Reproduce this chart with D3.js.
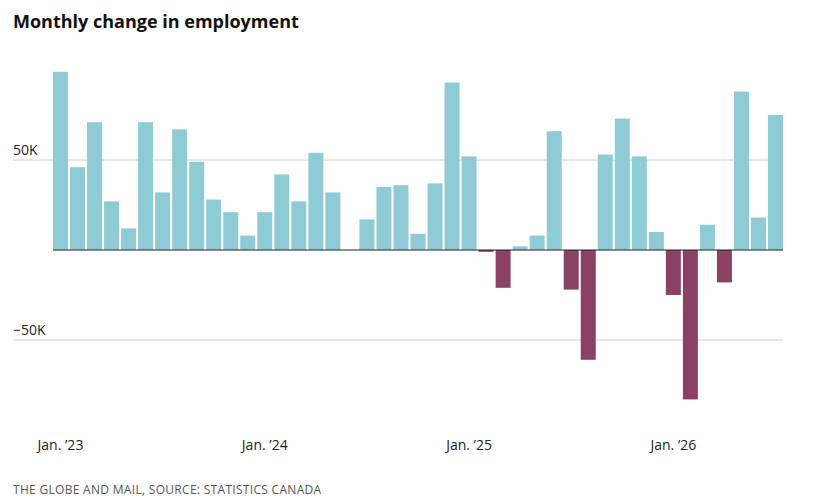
<!DOCTYPE html>
<html><head><meta charset="utf-8">
<script src="https://cdn.jsdelivr.net/npm/d3@7"></script>
<style>
body{margin:0;background:#fff;font-family:"Open Sans",sans-serif;}
</style></head>
<body><svg id="c" width="822" height="502"></svg>
<script>
// monthly change, thousands, Jan 2023 .. Jul 2026
var values = [99,46,71,27,12,71,32,67,49,28,21,8,
              21,42,27,54,32,0,17,35,36,9,37,93,
              52,-1,-21,2,8,66,-22,-61,53,73,52,10,
              -25,-83,14,-18,88,18,75];
var tickLabels = ["Jan. \u201923","Jan. \u201924","Jan. \u201925","Jan. \u201926"];
var tickIdx = [0,12,24,36];
var yTicks = [50,-50];

var svg = d3.select("#c");
var x = d3.scaleBand().domain(d3.range(values.length)).range([53,783]).paddingInner(0.12).paddingOuter(0);
var y = d3.scaleLinear().domain([-50,50]).range([340,160]);

svg.append("text").attr("x",13).attr("y",28).attr("font-size",18).attr("font-weight",700)
  .attr("fill","#111").text("Monthly change in employment");

svg.selectAll(".grid").data(yTicks).enter().append("line")
  .attr("x1",13).attr("x2",783).attr("y1",d=>y(d)).attr("y2",d=>y(d))
  .attr("stroke","#d0d0d0");
svg.selectAll(".yl").data(yTicks).enter().append("text")
  .attr("x",13).attr("y",d=>y(d)-5).attr("font-size",14).attr("fill","#222")
  .text(d=>d3.format("d")(d)+"K");

svg.selectAll("rect").data(values).enter().append("rect")
  .attr("x",(d,i)=>x(i)).attr("width",x.bandwidth())
  .attr("y",d=>y(Math.max(0,d))).attr("height",d=>Math.abs(y(d)-y(0)))
  .attr("fill",d=>d<0?"#8b4163":"#8ecbd5");

svg.append("line").attr("x1",53).attr("x2",783).attr("y1",y(0)).attr("y2",y(0))
  .attr("stroke","#222").attr("stroke-width",1);

svg.selectAll(".xl").data(tickIdx).enter().append("text")
  .attr("x",(d,i)=>x(d)+x.bandwidth()/2).attr("y",450).attr("text-anchor","middle")
  .attr("font-size",14).attr("fill","#222").text((d,i)=>tickLabels[i]);

svg.append("text").attr("x",13).attr("y",494).attr("font-size",12).attr("fill","#555")
  .attr("letter-spacing",0.3).text("THE GLOBE AND MAIL, SOURCE: STATISTICS CANADA");
</script></body></html>
